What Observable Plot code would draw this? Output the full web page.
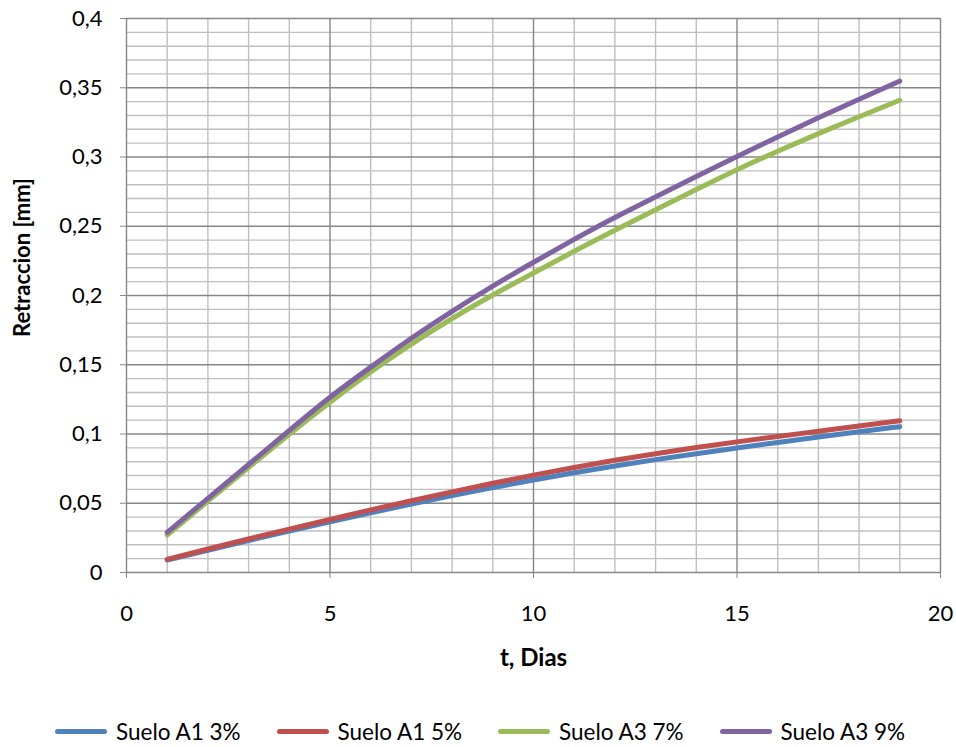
<!DOCTYPE html>
<html>
<head>
<meta charset="utf-8">
<script src="https://cdn.jsdelivr.net/npm/d3@7"></script>
<script src="https://cdn.jsdelivr.net/npm/@observablehq/plot@0.6"></script>
<style>
  html, body { margin: 0; padding: 0; background: #fff; }
  body { width: 956px; height: 747px; overflow: hidden; font-family: Lato, "Open Sans", sans-serif; }
  #legend { display: flex; align-items: center; height: 32px; padding-left: 55px; }
  .item { display: flex; align-items: center; width: 221.5px; font-size: 22.5px; color: #000; white-space: nowrap; }
  .sw { width: 52px; height: 5px; border-radius: 3px; margin-right: 9px; flex: none; }
</style>
</head>
<body>
<div id="chart"></div>
<div id="legend"></div>
<script>
// ---- data ----
const days = [1, 2, 3, 4, 5, 6, 7, 8, 9, 10, 11, 12, 13, 14, 15, 16, 17, 18, 19];
const seriesNames = ["Suelo A1 3%", "Suelo A1 5%", "Suelo A3 7%", "Suelo A3 9%"];
const seriesColors = ["#4F81BD", "#C0504D", "#9BBB59", "#8064A2"];
const sueloA1_3 = [0.009, 0.0161, 0.0231, 0.0299, 0.0366, 0.0431, 0.0494, 0.0555, 0.0613, 0.0668, 0.072, 0.0769, 0.0815, 0.0858, 0.0899, 0.0939, 0.0978, 0.1016, 0.1053];
const sueloA1_5 = [0.0095, 0.017, 0.0242, 0.0313, 0.0383, 0.0452, 0.0518, 0.0582, 0.0644, 0.0703, 0.0758, 0.081, 0.0858, 0.0902, 0.0943, 0.0982, 0.102, 0.1058, 0.1095];
const sueloA3_7 = [0.027, 0.0515, 0.0758, 0.0998, 0.1229, 0.1447, 0.1649, 0.1834, 0.2004, 0.2162, 0.2319, 0.2471, 0.2619, 0.2765, 0.2908, 0.3042, 0.3169, 0.3291, 0.341];
const sueloA3_9 = [0.029, 0.0535, 0.078, 0.1025, 0.1265, 0.1483, 0.1691, 0.1886, 0.2068, 0.224, 0.2405, 0.2563, 0.2712, 0.2859, 0.3003, 0.3145, 0.3283, 0.3417, 0.3548];
const xTicks = [0, 5, 10, 15, 20];
const yTicks = [0, 0.05, 0.1, 0.15, 0.2, 0.25, 0.3, 0.35, 0.4];
const xLabel = "t, Dias";
const yLabel = "Retraccion [mm]";

const allSeries = [sueloA1_3, sueloA1_5, sueloA3_7, sueloA3_9];
const table = allSeries.flatMap((vals, s) => days.map((d, i) => ({day: d, value: vals[i], series: seriesNames[s]})));

const xMinor = d3.range(0, 21, 1).filter(v => v % 5 !== 0);
const yMinor = d3.range(0, 41, 1).filter(v => v % 5 !== 0).map(v => v / 100);
const yFmt = d => String(d).replace(".", ",");

const W = 956, H = 715;
const chart = Plot.plot({
  width: W,
  height: H,
  marginLeft: 126,
  marginRight: 16,
  marginTop: 18,
  marginBottom: 143,
  style: {fontFamily: "Lato, 'Open Sans', sans-serif", fontSize: "22px", color: "#000", background: "#fff"},
  x: {domain: [0, 20]},
  y: {domain: [0, 0.4]},
  color: {domain: seriesNames, range: seriesColors},
  marks: [
    Plot.ruleX(xMinor, {stroke: "#bfbfbf", strokeWidth: 1.4}),
    Plot.ruleY(yMinor, {stroke: "#bfbfbf", strokeWidth: 1.4}),
    Plot.ruleX(xTicks.slice(1), {stroke: "#868686", strokeWidth: 1.4}),
    Plot.ruleY(yTicks.slice(1), {stroke: "#868686", strokeWidth: 1.4}),
    Plot.ruleX([0], {stroke: "#868686", strokeWidth: 1.4}),
    Plot.ruleY([0], {stroke: "#868686", strokeWidth: 1.4}),
    Plot.axisX({ticks: xTicks, tickSize: 6, tickPadding: 27, label: null, stroke: "#868686", fill: "#000", fontSize: 22, tickFormat: d => String(d)}),
    Plot.axisY({ticks: yTicks, tickSize: 6, tickPadding: 18, label: null, stroke: "#868686", fill: "#000", fontSize: 22, tickFormat: yFmt}),
    Plot.line(table, {x: "day", y: "value", stroke: "series", z: "series", strokeWidth: 5, curve: "natural", strokeLinecap: "round", strokeLinejoin: "round"}),
    Plot.text([xLabel], {frameAnchor: "bottom", dy: 93, fontWeight: "bold", fontSize: 24, fill: "#000"}),
    Plot.text([yLabel], {frameAnchor: "left", textAnchor: "middle", dx: -104, dy: -38, rotate: -90, fontWeight: "bold", fontSize: 22, fill: "#000"})
  ]
});
document.getElementById("chart").appendChild(chart);

const legend = document.getElementById("legend");
seriesNames.forEach((name, i) => {
  const item = document.createElement("div");
  item.className = "item";
  const sw = document.createElement("div");
  sw.className = "sw";
  sw.style.background = seriesColors[i];
  const t = document.createElement("span");
  t.textContent = name;
  item.appendChild(sw);
  item.appendChild(t);
  legend.appendChild(item);
});
</script>
</body>
</html>
